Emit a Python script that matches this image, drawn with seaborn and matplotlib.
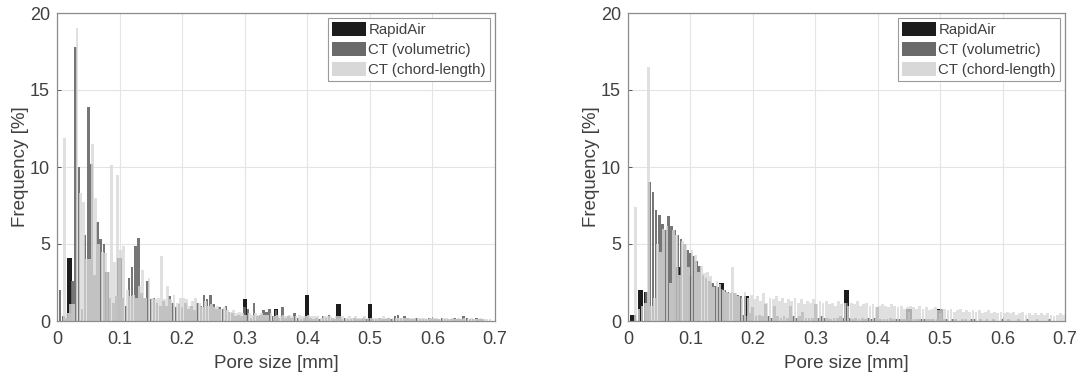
import numpy as np
import pandas as pd
import matplotlib
matplotlib.use("Agg")
import matplotlib.pyplot as plt
from matplotlib.patches import Patch
import seaborn as sns

# ---------------- data ----------------
bin_centers = np.round(np.arange(0.005, 0.7001, 0.005), 3)   # CT histogram bin centres [mm]

# left panel
left_rapidair_x = [0.02, 0.08, 0.10, 0.30, 0.35, 0.40, 0.45, 0.50]
left_rapidair_y = [4.1, 3.2, 4.1, 1.4, 0.8, 1.7, 1.1, 1.1]

left_vol_y = [
    2.0, 0.3, 0.2, 0.5, 2.6, 17.8, 10.0, 0.8, 5.6, 13.9,
    10.2, 3.0, 6.4, 5.3, 5.0, 3.2, 1.5, 1.2, 1.6, 4.1,
    1.5, 1.0, 2.8, 3.5, 4.9, 5.4, 1.8, 1.5, 2.6, 1.4,
    1.5, 1.2, 1.0, 1.3, 1.0, 1.6, 1.2, 0.9, 1.1, 0.9,
    1.2, 0.8, 1.0, 0.7, 1.2, 1.0, 1.7, 1.4, 1.7, 1.1,
    0.8, 0.9, 0.8, 1.0, 0.6, 0.5, 0.3, 0.4, 0.3, 0.9,
    0.8, 0.2, 1.2, 0.3, 0.4, 0.7, 0.6, 0.8, 0.3, 0.7,
    0.2, 0.9, 0.2, 0.3, 0.2, 0.5, 0.2, 0.1, 0.2, 0.3,
    0.2, 0.1, 0.2, 0.1, 0.3, 0.2, 0.4, 0.2, 0.1, 0.2,
    0.1, 0.2, 0.1, 0.1, 0.2, 0.1, 0.1, 0.2, 0.1, 0.2,
    0.1, 0.1, 0.2, 0.1, 0.1, 0.2, 0.1, 0.3, 0.4, 0.2,
    0.3, 0.2, 0.1, 0.1, 0.2, 0.1, 0.1, 0.1, 0.2, 0.1,
    0.1, 0.1, 0.2, 0.1, 0.1, 0.1, 0.2, 0.1, 0.1, 0.3,
    0.2, 0.1, 0.1, 0.2, 0.1, 0.1, 0.0, 0.0, 0.0, 0.0,
]
left_chord_y = [
    0.0, 11.9, 0.5, 1.1, 1.1, 19.0, 8.3, 7.7, 4.0, 4.0,
    11.5, 8.0, 5.0, 4.5, 4.4, 3.2, 10.1, 3.8, 9.5, 4.6,
    4.9, 2.0, 1.6, 1.7, 1.5, 2.3, 3.3, 1.5, 2.8, 1.5,
    1.4, 1.5, 4.2, 1.4, 2.3, 1.4, 1.7, 1.2, 1.5, 1.5,
    1.4, 1.0, 1.3, 1.5, 1.2, 0.9, 1.3, 1.0, 1.1, 0.9,
    1.0, 0.8, 0.9, 0.7, 0.6, 0.7, 0.5, 0.6, 0.5, 0.4,
    0.5, 0.4, 0.5, 0.4, 0.5, 0.4, 0.4, 0.5, 0.3, 0.4,
    0.3, 0.4, 0.3, 0.4, 0.3, 0.3, 0.4, 0.3, 0.3, 0.4,
    0.3, 0.3, 0.3, 0.2, 0.3, 0.3, 0.3, 0.2, 0.3, 0.3,
    0.3, 0.2, 0.3, 0.2, 0.3, 0.2, 0.2, 0.3, 0.2, 0.2,
    0.2, 0.2, 0.2, 0.3, 0.2, 0.2, 0.2, 0.2, 0.2, 0.2,
    0.2, 0.2, 0.2, 0.2, 0.2, 0.2, 0.2, 0.1, 0.2, 0.2,
    0.2, 0.1, 0.2, 0.2, 0.1, 0.2, 0.1, 0.2, 0.1, 0.2,
    0.1, 0.2, 0.1, 0.1, 0.2, 0.1, 0.1, 0.1, 0.0, 0.0,
]

# right panel
right_rapidair_x = [0.008, 0.02, 0.03, 0.08, 0.10, 0.15, 0.19, 0.35, 0.45, 0.50]
right_rapidair_y = [0.4, 2.0, 1.9, 3.5, 2.9, 2.5, 1.6, 2.0, 0.8, 0.8]

right_vol_y = [
    0.0, 0.0, 0.0, 0.0, 0.0, 1.9, 9.0, 8.4, 7.2, 6.9,
    6.3, 5.9, 6.8, 6.2, 5.9, 5.6, 5.3, 5.0, 4.6, 4.4,
    4.2, 3.9, 3.6, 3.0, 2.8, 2.6, 2.5, 2.3, 2.2, 2.1,
    2.0, 1.9, 1.8, 1.8, 1.7, 1.6, 0.4, 0.3, 0.5, 0.9,
    0.3, 0.4, 0.3, 1.1, 0.3, 0.2, 1.0, 0.3, 0.2, 0.3,
    0.2, 1.0, 0.3, 0.2, 0.3, 0.6, 0.2, 0.2, 0.2, 1.1,
    0.2, 0.3, 0.2, 0.2, 0.1, 0.2, 0.2, 0.3, 0.2, 1.2,
    0.2, 0.1, 0.2, 0.1, 0.2, 0.1, 0.2, 0.1, 0.2, 0.9,
    0.1, 0.1, 0.1, 0.2, 0.1, 0.1, 0.1, 0.1, 0.1, 0.6,
    0.1, 0.1, 0.1, 0.1, 0.1, 0.1, 0.1, 0.1, 0.1, 0.5,
    0.1, 0.1, 0.0, 0.1, 0.1, 0.0, 0.1, 0.1, 0.0, 0.1,
    0.1, 0.0, 0.1, 0.0, 0.1, 0.0, 0.1, 0.0, 0.0, 0.1,
    0.0, 0.1, 0.0, 0.0, 0.1, 0.0, 0.0, 0.1, 0.0, 0.0,
    0.1, 0.0, 0.0, 0.0, 0.1, 0.0, 0.0, 0.0, 0.0, 0.0,
]
right_chord_y = [
    0.0, 7.4, 0.8, 1.0, 1.2, 16.5, 1.0, 1.5, 5.0, 4.5,
    6.0, 6.2, 2.5, 5.9, 5.6, 3.0, 5.2, 5.0, 3.5, 4.6,
    4.3, 3.2, 3.6, 3.1, 3.2, 2.9, 2.2, 2.6, 2.4, 2.0,
    1.9, 1.8, 3.5, 1.8, 1.6, 1.5, 1.9, 1.5, 1.7, 1.4,
    1.6, 1.3, 1.8, 1.2, 1.5, 1.4, 1.6, 1.3, 1.5, 1.2,
    1.4, 1.3, 1.5, 1.2, 1.4, 1.1, 1.3, 1.2, 1.4, 1.1,
    1.3, 1.2, 1.3, 1.1, 1.2, 1.0, 1.3, 1.1, 1.2, 1.0,
    1.2, 1.1, 1.3, 1.0, 1.1, 1.2, 1.0, 1.1, 0.9, 1.0,
    1.1, 1.0, 0.9, 1.1, 1.0, 0.9, 1.0, 0.8, 0.9, 1.0,
    0.9, 0.8, 1.0, 0.8, 0.9, 0.7, 0.8, 0.9, 0.7, 0.8,
    0.8, 0.7, 0.8, 0.6, 0.7, 0.8, 0.6, 0.7, 0.6, 0.7,
    0.6, 0.7, 0.5, 0.6, 0.7, 0.5, 0.6, 0.5, 0.6, 0.5,
    0.6, 0.5, 0.6, 0.4, 0.5, 0.6, 0.4, 0.5, 0.4, 0.5,
    0.4, 0.5, 0.4, 0.5, 0.4, 0.3, 0.4, 0.5, 0.4, 0.6,
]

series_labels = ["RapidAir", "CT (volumetric)", "CT (chord-length)"]
x_ticks = [0, 0.1, 0.2, 0.3, 0.4, 0.5, 0.6, 0.7]
x_tick_labels = ["0", "0.1", "0.2", "0.3", "0.4", "0.5", "0.6", "0.7"]
y_ticks = [0, 5, 10, 15, 20]
x_label = "Pore size [mm]"
y_label = "Frequency [%]"

# ---------------- style ----------------
sns.set_theme(style="whitegrid")
plt.rcParams["font.family"] = ["Liberation Sans", "DejaVu Sans"]

C_RA = "#1c1c1c"
C_VOL = "#6a6a6a"
C_CH = "#d8d8d8"
TXT = "#404040"


def hist_bars(ax, centers, values, width, color, alpha):
    centers = np.asarray(centers, dtype=float)
    edges = np.column_stack([centers - width / 2, centers + width / 2]).ravel()
    df = pd.DataFrame({"size": centers, "freq": np.asarray(values, dtype=float)})
    sns.histplot(data=df, x="size", weights="freq", bins=list(edges), ax=ax,
                 color=color, alpha=alpha, edgecolor="none", linewidth=0,
                 stat="count")


fig = plt.figure(figsize=(10.86, 3.78), dpi=100)
ax_l = fig.add_axes([57 / 1086, 57 / 378, 438 / 1086, 308 / 378])
ax_r = fig.add_axes([628 / 1086, 57 / 378, 437 / 1086, 308 / 378])

panels = [
    (ax_l, left_rapidair_x, left_rapidair_y, 0.007, left_vol_y, left_chord_y, 0.0042, 0.0047, 0.002),
    (ax_r, right_rapidair_x, right_rapidair_y, 0.0085, right_vol_y, right_chord_y, 0.0045, 0.0045, 0.0025),
]

for ax, rx, ry, wr, vy, cy, wv, wc, off in panels:
    hist_bars(ax, rx, ry, wr, C_RA, 1.0)
    hist_bars(ax, bin_centers, vy, wv, C_VOL, 0.92)
    hist_bars(ax, bin_centers + off, cy, wc, C_CH, 0.78)

    ax.set_xlim(0, 0.7)
    ax.set_ylim(0, 20)
    ax.set_xticks(x_ticks)
    ax.set_xticklabels(x_tick_labels)
    ax.set_yticks(y_ticks)
    ax.set_xlabel(x_label, fontsize=13.5, color=TXT, labelpad=5)
    ax.set_ylabel(y_label, fontsize=13.5, color=TXT, labelpad=1)
    ax.tick_params(axis="both", labelsize=13, colors=TXT, direction="in",
                   length=3, width=0.6, bottom=True, left=True)
    ax.tick_params(axis="x", pad=7)
    ax.tick_params(axis="y", pad=5)
    ax.grid(True, color="#e4e4e4", linewidth=0.8)
    ax.set_axisbelow(True)
    for sp in ax.spines.values():
        sp.set_visible(True)
        sp.set_color("#8c8c8c")
        sp.set_linewidth(0.9)
    ax.set_facecolor("white")

    handles = [Patch(facecolor=C_RA, edgecolor="none"),
               Patch(facecolor=C_VOL, edgecolor="none"),
               Patch(facecolor=C_CH, edgecolor="none")]
    leg = ax.legend(handles, series_labels, loc="upper right", fontsize=10.8,
                    frameon=True, fancybox=False, framealpha=1,
                    edgecolor="#9a9a9a", borderpad=0.25, labelspacing=0.32,
                    handlelength=2.3, handleheight=1.05, handletextpad=0.15,
                    borderaxespad=0.35)
    leg.get_frame().set_linewidth(0.8)
    for t in leg.get_texts():
        t.set_color(TXT)

fig.savefig("out.png", dpi=100, facecolor="white")
